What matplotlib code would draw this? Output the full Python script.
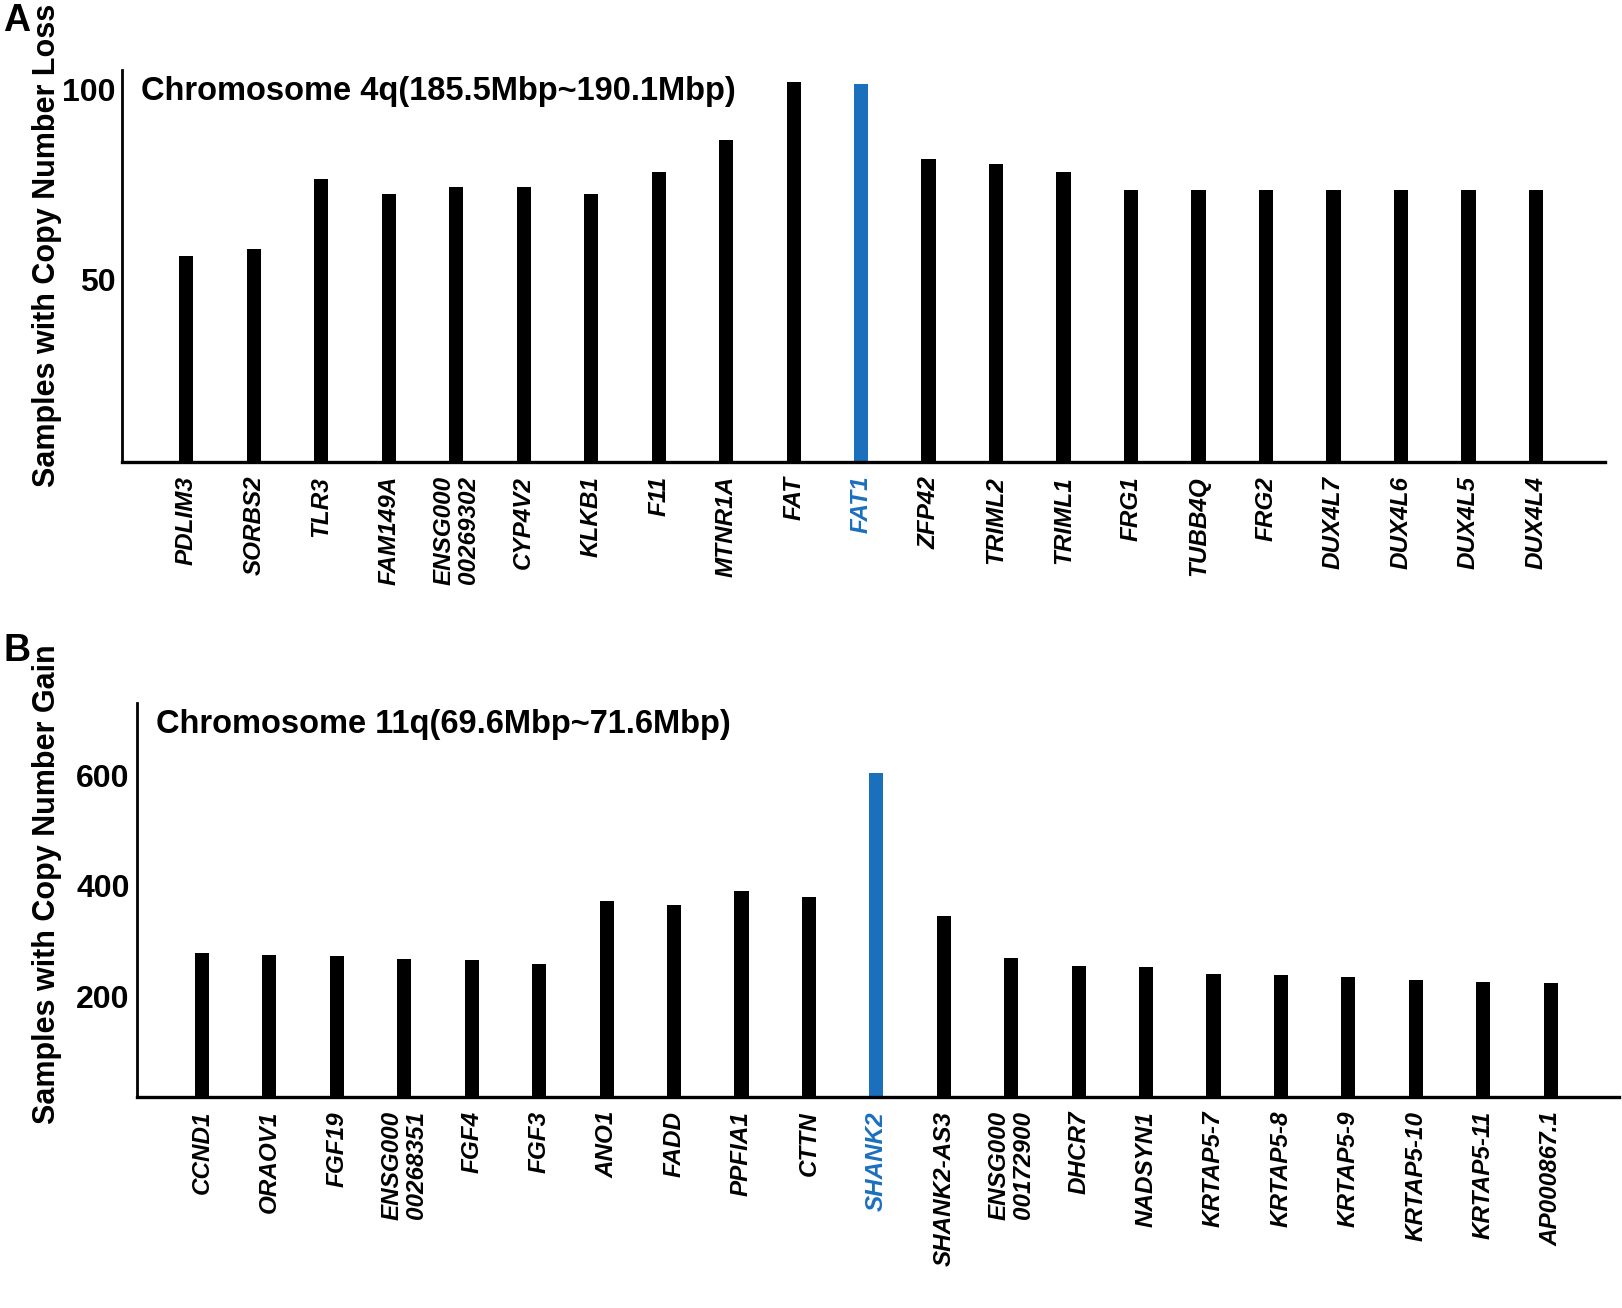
import matplotlib
matplotlib.use("Agg")
import matplotlib.pyplot as plt

# ---------------- data ----------------
genes_a = ["PDLIM3", "SORBS2", "TLR3", "FAM149A", "ENSG000\n00269302", "CYP4V2", "KLKB1",
           "F11", "MTNR1A", "FAT", "FAT1", "ZFP42", "TRIML2", "TRIML1", "FRG1", "TUBB4Q",
           "FRG2", "DUX4L7", "DUX4L6", "DUX4L5", "DUX4L4"]
loss_a = [56.0, 57.9, 76.4, 72.3, 74.2, 74.2, 72.3, 78.3, 86.7, 101.9, 101.4,
          81.5, 80.4, 78.3, 73.4, 73.4, 73.4, 73.4, 73.4, 73.4, 73.4]
highlight_a = "FAT1"
yticks_a = [50, 100]

genes_b = ["CCND1", "ORAOV1", "FGF19", "ENSG000\n00268351", "FGF4", "FGF3", "ANO1", "FADD",
           "PPFIA1", "CTTN", "SHANK2", "SHANK2-AS3", "ENSG000\n00172900", "DHCR7", "NADSYN1",
           "KRTAP5-7", "KRTAP5-8", "KRTAP5-9", "KRTAP5-10", "KRTAP5-11", "AP000867.1"]
gain_b = [279, 275, 273, 268, 266, 258, 373, 365, 390, 380, 604,
          346, 270, 256, 254, 241, 239, 236, 230, 226, 224]
highlight_b = "SHANK2"
yticks_b = [200, 400, 600]

BLUE = "#1a70bd"
FONT = "Liberation Sans"
plt.rcParams["font.family"] = [FONT, "DejaVu Sans"]

fig = plt.figure(figsize=(16.22, 13.08), dpi=100)


def panel(rect, genes, vals, hl, yticks, ylim, xlim, title):
    ax = fig.add_axes(rect)
    x = list(range(len(genes)))
    colors = [BLUE if g == hl else "black" for g in genes]
    ax.bar(x, vals, width=0.21, color=colors, zorder=2)
    ax.set_xlim(*xlim)
    ax.set_ylim(*ylim)
    ax.set_yticks(yticks)
    ax.set_yticklabels([str(t) for t in yticks], fontsize=23, fontweight="bold")
    ax.tick_params(axis="y", length=0, pad=5)
    ax.set_xticks(x)
    ax.set_xticklabels(genes, rotation=90, fontsize=17.5, fontweight="bold",
                       fontstyle="italic", va="top", ha="center",
                       multialignment="right", linespacing=1.05)
    for lbl, g in zip(ax.get_xticklabels(), genes):
        if g == hl:
            lbl.set_color(BLUE)
    ax.tick_params(axis="x", length=0, pad=10)
    for s in ["top", "right"]:
        ax.spines[s].set_visible(False)
    ax.spines["left"].set_linewidth(2.0)
    ax.spines["bottom"].set_linewidth(2.4)
    ax.text(0.013, 0.985, title, transform=ax.transAxes, fontsize=23.5,
            fontweight="bold", va="top", ha="left")
    return ax


axA = panel([0.0753, 0.6468, 0.9145, 0.2994], genes_a, loss_a, highlight_a, yticks_a,
            (1.9, 104.9), (-0.95, 21.03), "Chromosome 4q(185.5Mbp~190.1Mbp)")
axB = panel([0.0842, 0.1613, 0.9138, 0.3012], genes_b, gain_b, highlight_b, yticks_b,
            (18, 731), (-0.97, 21.01), "Chromosome 11q(69.6Mbp~71.6Mbp)")

fig.text(0.0287, 1 - 245 / 1308, "Samples with Copy Number Loss", rotation=90,
         fontsize=22, fontweight="bold", ha="center", va="center")
fig.text(0.0287, 1 - 884 / 1308, "Samples with Copy Number Gain", rotation=90,
         fontsize=22, fontweight="bold", ha="center", va="center")
fig.text(0.002, 1 - 21 / 1308, "A", fontsize=27, fontweight="bold", ha="left", va="center")
fig.text(0.002, 1 - 651 / 1308, "B", fontsize=27, fontweight="bold", ha="left", va="center")

fig.savefig("out.png", dpi=100, facecolor="white")
